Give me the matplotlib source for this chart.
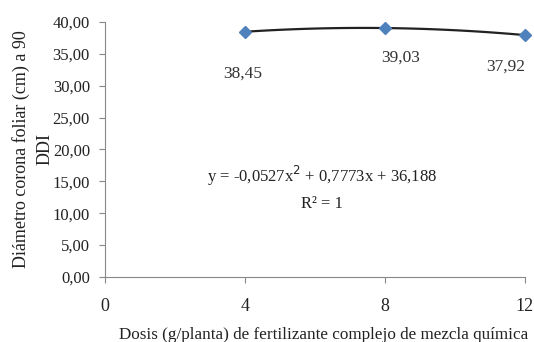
import numpy as np
import matplotlib.pyplot as plt

plt.rcParams['font.family'] = ['Liberation Serif', 'DejaVu Serif']

# data
dosis = [4, 8, 12]
diametro = [38.45, 39.03, 37.92]
etiquetas = ['38,45', '39,03', '37,92']
# polynomial trendline coefficients shown on the chart
coef = [-0.0527, 0.7773, 36.188]
yticks = [0, 5, 10, 15, 20, 25, 30, 35, 40]
xticks = [0, 4, 8, 12]

fig = plt.figure(figsize=(5.34, 3.42), dpi=100)
ax = fig.add_axes([0.197, 0.19, 0.786, 0.746])

# trendline
xs = np.linspace(4, 12, 100)
ax.plot(xs, np.polyval(coef, xs), color='#222222', lw=1.6, zorder=2)
ax.plot(dosis, diametro, linestyle='none', marker='D', markersize=6,
        color='#4F81BD', zorder=3, clip_on=False)

# data labels
offsets = [(-2, -30), (11, -21), (-14, -23)]
for x, y, lab, off in zip(dosis, diametro, etiquetas, offsets):
    ax.annotate(lab, (x, y), xytext=off, textcoords='offset points',
                ha='center', va='center', fontsize=12.5, color='#333333')

ax.text(6.2, 15.8, 'y = -0,0527x$^2$ + 0,7773x + 36,188', ha='center',
        va='center', fontsize=12, color='#222222')
ax.text(6.2, 11.5, 'R² = 1', ha='center', va='center', fontsize=12,
        color='#222222')

ax.set_xlim(0, 12)
ax.set_ylim(0, 40)
ax.set_xticks(xticks)
ax.set_yticks(yticks)
ax.set_yticklabels([('%.2f' % v).replace('.', ',') for v in yticks], fontsize=12)
ax.set_xticklabels([str(v) for v in xticks], fontsize=13)
ax.tick_params(direction='out', length=4, color='#888888', labelcolor='#222222')
ax.tick_params(axis='x', pad=11)
ax.tick_params(axis='y', pad=7)
for s in ['top', 'right']:
    ax.spines[s].set_visible(False)
for s in ['left', 'bottom']:
    ax.spines[s].set_color('#888888')

ax.set_xlabel('Dosis (g/planta) de fertilizante complejo de mezcla química',
              fontsize=12.3, color='#222222')
ax.xaxis.set_label_coords(0.52, -0.195)
ax.set_ylabel('Diámetro corona foliar (cm) a 90\nDDI', fontsize=13,
              color='#222222', linespacing=1.5)
ax.yaxis.set_label_coords(-0.124, 0.5)

fig.savefig('out.png', dpi=100)
